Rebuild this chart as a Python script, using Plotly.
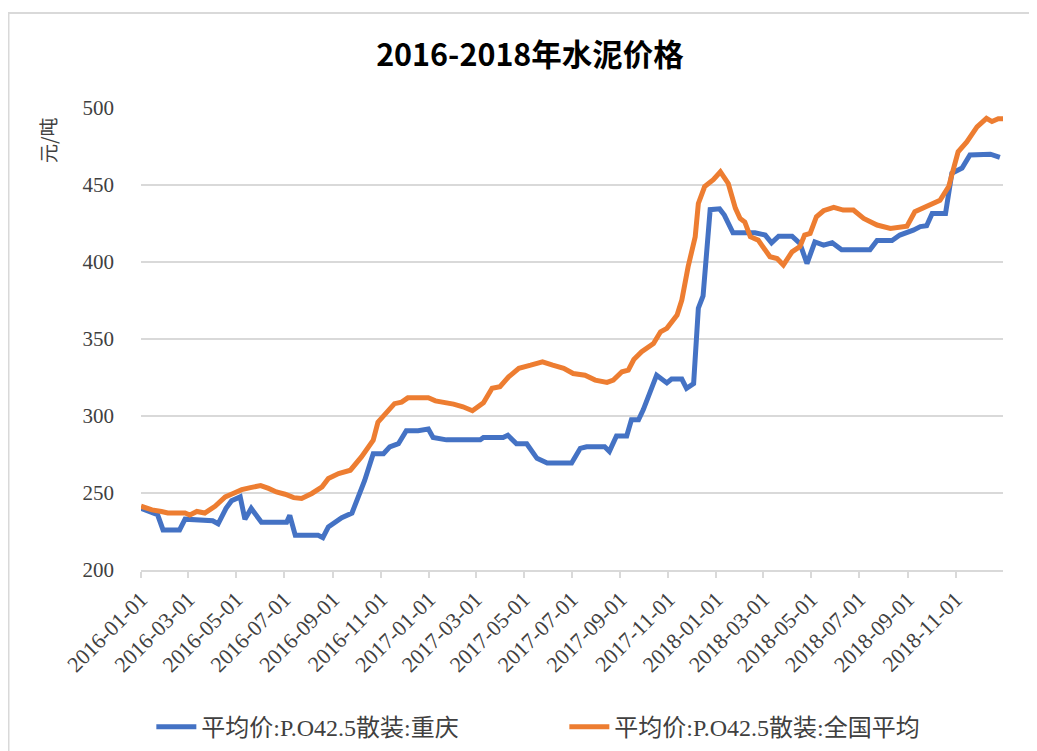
import plotly.graph_objects as go

# ---- data ----
title_text = "2016-2018年水泥价格"
y_unit = "元/吨"
name_cq = "平均价:P.O42.5散装:重庆"
name_cn = "平均价:P.O42.5散装:全国平均"

dates_cq = [
    "2016-01-01", "2016-01-15", "2016-01-22", "2016-01-29", "2016-02-19", "2016-02-26",
    "2016-04-01", "2016-04-08", "2016-04-18", "2016-04-25", "2016-05-06", "2016-05-12",
    "2016-05-20", "2016-06-02", "2016-07-04", "2016-07-08", "2016-07-15", "2016-08-13",
    "2016-08-19", "2016-08-26", "2016-09-12", "2016-09-25", "2016-10-11", "2016-10-22",
    "2016-11-04", "2016-11-12", "2016-11-23", "2016-12-03", "2016-12-18", "2016-12-31",
    "2017-01-06", "2017-01-23", "2017-03-07", "2017-03-11", "2017-04-05", "2017-04-11",
    "2017-04-22", "2017-05-05", "2017-05-18", "2017-05-31", "2017-07-01", "2017-07-12",
    "2017-07-20", "2017-08-12", "2017-08-18", "2017-08-27", "2017-09-09", "2017-09-15",
    "2017-09-24", "2017-09-30", "2017-10-17", "2017-10-30", "2017-11-05", "2017-11-18",
    "2017-11-24", "2017-12-03", "2017-12-09", "2017-12-15", "2017-12-24", "2018-01-05",
    "2018-01-11", "2018-01-22", "2018-02-19", "2018-03-04", "2018-03-12", "2018-03-21",
    "2018-04-07", "2018-04-17", "2018-04-26", "2018-05-06", "2018-05-17", "2018-05-28",
    "2018-06-09", "2018-07-15", "2018-07-24", "2018-08-12", "2018-08-22", "2018-09-08",
    "2018-09-17", "2018-09-25", "2018-10-02", "2018-10-19", "2018-10-27", "2018-11-09",
    "2018-11-19", "2018-12-15", "2018-12-27",
]
values_cq = [
    240, 237, 236, 226, 226, 233,
    232, 230, 240, 245, 247.5, 233,
    240, 231, 231, 235.5, 222.5, 222.5,
    221, 228, 234, 237, 258, 275.5,
    275.5, 280, 282, 290.5, 290.5, 291.5,
    286, 284.5, 284.5, 286, 286, 287.5,
    282, 282, 272.5, 269.5, 269.5, 279,
    280, 280, 277, 287, 287, 297.5,
    297.5, 304, 326.5, 321.5, 324, 324,
    318, 321, 370, 378, 434, 434.5,
    430.5, 419, 419, 417.5, 412.5, 416.8,
    416.8, 412, 399, 413, 411, 412.5,
    408, 408, 414, 414, 417.5, 420.7,
    423, 423.5, 431.5, 431.5, 457.6, 461,
    469.5, 470, 468,
]

dates_cn = [
    "2016-01-01", "2016-01-15", "2016-01-27", "2016-02-04", "2016-02-26", "2016-03-03",
    "2016-03-12", "2016-03-22", "2016-04-04", "2016-04-17", "2016-04-27", "2016-05-08",
    "2016-05-19", "2016-06-01", "2016-06-11", "2016-06-21", "2016-07-02", "2016-07-13",
    "2016-07-23", "2016-08-05", "2016-08-18", "2016-08-26", "2016-09-08", "2016-09-23",
    "2016-10-07", "2016-10-22", "2016-10-28", "2016-11-08", "2016-11-18", "2016-11-27",
    "2016-12-05", "2016-12-31", "2017-01-09", "2017-02-01", "2017-02-13", "2017-02-25",
    "2017-03-11", "2017-03-22", "2017-04-01", "2017-04-12", "2017-04-25", "2017-05-10",
    "2017-05-25", "2017-06-07", "2017-06-21", "2017-07-03", "2017-07-18", "2017-07-31",
    "2017-08-15", "2017-08-23", "2017-09-03", "2017-09-11", "2017-09-18", "2017-09-28",
    "2017-10-13", "2017-10-22", "2017-10-30", "2017-11-12", "2017-11-18", "2017-11-26",
    "2017-12-05", "2017-12-09", "2017-12-17", "2017-12-28", "2018-01-06", "2018-01-16",
    "2018-01-25", "2018-01-31", "2018-02-06", "2018-02-13", "2018-02-23", "2018-03-10",
    "2018-03-19", "2018-03-27", "2018-04-07", "2018-04-17", "2018-04-23", "2018-04-30",
    "2018-05-08", "2018-05-17", "2018-05-30", "2018-06-11", "2018-06-24", "2018-07-07",
    "2018-07-24", "2018-08-10", "2018-08-31", "2018-09-10", "2018-09-25", "2018-10-12",
    "2018-10-23", "2018-11-04", "2018-11-15", "2018-11-28", "2018-12-10", "2018-12-17",
    "2018-12-25", "2018-12-31",
]
values_cn = [
    241.4, 239, 238, 237, 237, 235.7,
    238, 237, 241.4, 247.5, 249.7, 252.2,
    253.5, 254.8, 253, 250.7, 249.2, 247,
    246.4, 249.7, 254, 259.4, 262.6, 264.8,
    273.4, 284.3, 296, 302.7, 308, 309,
    311.8, 311.8, 309.8, 307.7, 306, 303.4,
    308.6, 318, 319, 325.4, 331, 333,
    335.2, 333, 331, 327.6, 326.5, 323.3,
    321.8, 323.3, 328.7, 329.8, 336.7, 341.7,
    347.1, 354.7, 356.9, 365.6, 375.3, 396.9,
    416.4, 438, 449, 453.5, 458.6, 451,
    435, 428.3, 426, 416.4, 414.2, 403.4,
    402.3, 398, 406.6, 410, 417.5, 418.6,
    429.4, 433.3, 435.5, 433.7, 433.7, 428.3,
    424, 421.8, 423.3, 432.6, 436, 440,
    449, 471.6, 478, 487.8, 493.3, 491.2,
    493, 493,
]

y_ticks = [200, 250, 300, 350, 400, 450, 500]

# ---- styling ----
BLUE = "#4472C4"
ORANGE = "#ED7D31"
GRID = "#D9D9D9"
SERIF = "Times New Roman, Liberation Serif, Noto Sans CJK SC, serif"
CJK = "Noto Sans CJK SC, sans-serif"

fig = go.Figure()
fig.add_trace(go.Scatter(x=dates_cq, y=values_cq, mode="lines", name=name_cq,
                         line=dict(color=BLUE, width=5)))
fig.add_trace(go.Scatter(x=dates_cn, y=values_cn, mode="lines", name=name_cn,
                         line=dict(color=ORANGE, width=5)))

fig.update_layout(
    width=1037, height=751,
    font=dict(family=SERIF),
    paper_bgcolor="white", plot_bgcolor="white",
    margin=dict(l=133, r=42, t=100, b=189, autoexpand=False),
    title=dict(text="<b>" + title_text + "</b>", x=522 / 1037, xanchor="center",
               y=1 - 47 / 751, yanchor="middle",
               font=dict(family=CJK, size=30.5, color="#000000")),
    showlegend=True,
    legend=dict(orientation="h", x=0.012, xanchor="left", y=-0.34, yanchor="middle",
                font=dict(family=SERIF, size=24, color="#404040"),
                entrywidth=358, entrywidthmode="pixels", itemwidth=40,
                bgcolor="rgba(0,0,0,0)"),
    xaxis=dict(
        type="date", range=["2016-01-01", "2018-12-31"],
        tick0="2016-01-01", dtick="M2", tickformat="%Y-%m-%d",
        tickangle=-45, showgrid=False, automargin=False,
        showline=True, linecolor=GRID, linewidth=1.5,
        ticks="outside", ticklen=6, tickcolor=GRID, tickwidth=1.5,
        tickfont=dict(family=SERIF, size=22, color="#404040"),
        zeroline=False,
    ),
    yaxis=dict(
        range=[200, 500], tickvals=y_ticks, automargin=False,
        showgrid=True, gridcolor=GRID, gridwidth=1.5,
        showline=False, zeroline=False, ticks="",
        ticklabelstandoff=26,
        tickfont=dict(family=SERIF, size=21, color="#404040"),
    ),
    annotations=[dict(
        text=y_unit, textangle=-90, xref="paper", yref="paper",
        x=(47 - 141) / 862, y=(570 - 141) / 462, xanchor="center", yanchor="middle",
        showarrow=False, font=dict(family=CJK, size=19, color="#404040"),
    )],
    shapes=[dict(
        type="rect", xref="paper", yref="paper", layer="below",
        x0=(8.5 - 141) / 862, x1=(1050 - 141) / 862,
        y0=(570 - 770) / 462, y1=(570 - 13) / 462,
        line=dict(color=GRID, width=2), fillcolor="rgba(0,0,0,0)",
    )],
)

fig.write_html("out.html")
